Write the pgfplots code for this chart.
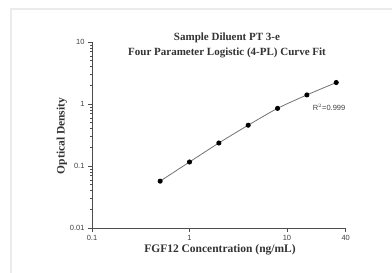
\documentclass[border=0pt]{standalone}
\usepackage{fontspec}
\setmainfont{Liberation Serif}
\setsansfont{Liberation Sans}
\usepackage{pgfplots}
\pgfplotsset{compat=1.18}
\begin{document}
\begin{tikzpicture}[x=1pt,y=1pt]
\useasboundingbox (0,0) rectangle (392,273);
\fill[white] (0,0) rectangle (392,273);
\draw[line width=2pt, color=black!8] (11,0) -- (11,264) -- (392,264);
\begin{axis}[
  at={(92pt,45pt)}, anchor=south west,
  scale only axis,
  width=253.7pt, height=186pt,
  xmode=log, ymode=log,
  xmin=0.1, xmax=40, ymin=0.01, ymax=10,
  axis lines=left,
  axis line style={-, draw=black!70, line width=0.7pt},
  tick align=outside,
  tick style={draw=black!70, line width=0.5pt},
  major tick length=4pt, minor tick length=2pt,
  xtick={0.1,1,10,40}, xticklabels={0.1,1,10,40},
  ytick={0.01,0.1,1,10}, yticklabels={0.01,0.1,1,10},
  tick label style={font=\sffamily\fontsize{7.5}{8}\selectfont, text=black!75},
  clip=false,
]
\addplot[color=black!55, line width=0.8pt, smooth, mark=*, mark size=2.1pt,
  mark options={fill=black, draw=black}] coordinates {
  (0.5,0.057) (1,0.116) (2,0.235) (4,0.455) (8,0.85) (16,1.40) (32,2.22)};
\node[font=\sffamily\fontsize{7.5}{8}\selectfont, text=black!75] at (axis cs:27,0.89) {R$^{2}$=0.999};
\end{axis}
\node[font=\bfseries\fontsize{11}{12}\selectfont, text=black!80] at (227,235) {Sample Diluent PT 3-e};
\node[font=\bfseries\fontsize{11}{12}\selectfont, text=black!80] at (227,220) {Four Parameter Logistic (4-PL) Curve Fit};
\node[font=\bfseries\fontsize{11.5}{12}\selectfont, text=black!80] at (220,23) {FGF12 Concentration (ng/mL)};
\node[font=\bfseries\fontsize{11.5}{12}\selectfont, text=black!80, rotate=90] at (62,137) {Optical Density};
\end{tikzpicture}
\end{document}
